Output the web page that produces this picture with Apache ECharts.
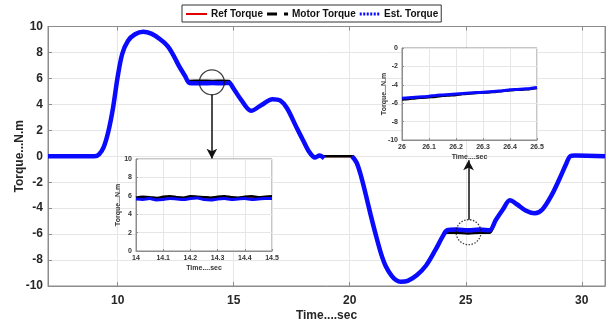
<!DOCTYPE html>
<html><head><meta charset="utf-8">
<script src="https://cdn.jsdelivr.net/npm/echarts@6/dist/echarts.min.js"></script>
<style>html,body{margin:0;padding:0;background:#fff}#c{width:610px;height:323px}</style>
</head><body><div id="c"></div>
<script>
// ---- main plot data (time in s, torque in N.m) ----
const mainTime = [7, 9.0, 9.2, 9.4, 9.6, 9.8, 10.0, 10.2, 10.45, 10.75, 11.1, 11.45, 11.8, 12.15, 12.4, 12.66, 12.9, 13.1, 13.6, 14.1, 14.5, 14.8, 15.0, 15.3, 15.75, 16.2, 16.67, 17.0, 17.3, 17.7, 18.0, 18.25, 18.5, 18.7, 18.9, 19.5, 20.1, 20.3, 20.5, 20.7, 20.9, 21.13, 21.35, 21.56, 21.8, 22.0, 22.2, 22.5, 22.9, 23.3, 23.7, 24.0, 24.2, 24.6, 25.1, 25.6, 26.03, 26.3, 26.6, 26.9, 27.2, 27.6, 27.97, 28.3, 28.7, 29.05, 29.3, 29.5, 29.7, 31];
const refTorque = [0, 0, 0.15, 0.7, 1.9, 3.7, 6.1, 7.9, 8.9, 9.4, 9.6, 9.45, 9.05, 8.5, 7.8, 6.9, 6.2, 5.75, 5.75, 5.75, 5.75, 5.75, 5.2, 4.4, 3.5, 3.95, 4.4, 4.3, 3.7, 2.25, 1.2, 0.35, 0, 0, 0, 0, 0, -0.5, -1.6, -3.0, -4.5, -6.1, -7.5, -8.5, -9.2, -9.55, -9.67, -9.6, -9.15, -8.4, -7.2, -6.2, -5.8, -5.8, -5.8, -5.8, -5.8, -4.9, -4.1, -3.4, -3.7, -4.2, -4.4, -4.1, -3.0, -1.7, -0.7, 0, 0.05, 0];
const motorTorque = [0, 0, 0.15, 0.7, 1.9, 3.7, 6.1, 7.9, 8.9, 9.4, 9.6, 9.45, 9.05, 8.5, 7.8, 6.9, 6.2, 5.8, 5.82, 5.8, 5.82, 5.8, 5.2, 4.4, 3.5, 3.95, 4.4, 4.3, 3.7, 2.25, 1.2, 0.35, 0, 0, 0, 0, 0, -0.5, -1.6, -3.0, -4.5, -6.1, -7.5, -8.5, -9.2, -9.55, -9.67, -9.6, -9.15, -8.4, -7.2, -6.2, -5.9, -5.9, -5.95, -5.9, -5.9, -4.9, -4.1, -3.4, -3.7, -4.2, -4.4, -4.1, -3.0, -1.7, -0.7, 0, 0.05, 0];
const estTorque = [0, 0, 0.15, 0.7, 1.9, 3.7, 6.1, 7.9, 8.9, 9.4, 9.6, 9.45, 9.05, 8.5, 7.8, 6.9, 6.2, 5.65, 5.62, 5.65, 5.62, 5.65, 5.2, 4.4, 3.5, 3.95, 4.4, 4.3, 3.7, 2.25, 1.2, 0.35, -0.1, 0.05, -0.15, null, 0, -0.5, -1.6, -3.0, -4.5, -6.1, -7.5, -8.5, -9.2, -9.55, -9.67, -9.6, -9.15, -8.4, -7.2, -6.2, -5.7, -5.65, -5.7, -5.65, -5.7, -4.9, -4.1, -3.4, -3.7, -4.2, -4.4, -4.1, -3.0, -1.7, -0.7, 0, 0.05, 0];

// ---- inset 1: 14 .. 14.5 s ----
const inset1Time = [14, 14.025, 14.05, 14.075, 14.1, 14.125, 14.15, 14.175, 14.2, 14.225, 14.25, 14.275, 14.3, 14.325, 14.35, 14.375, 14.4, 14.425, 14.45, 14.475, 14.5];
const inset1Ref = [5.75, 5.75, 5.75, 5.75, 5.75, 5.75, 5.75, 5.75, 5.75, 5.75, 5.75, 5.75, 5.75, 5.75, 5.75, 5.75, 5.75, 5.75, 5.75, 5.75, 5.75];
const inset1Motor = [5.8, 5.9, 5.85, 5.75, 5.9, 5.95, 5.85, 5.8, 5.95, 5.9, 5.85, 5.8, 5.9, 5.95, 5.85, 5.8, 5.9, 5.95, 5.85, 5.9, 5.95];
const inset1Est = [5.65, 5.6, 5.7, 5.55, 5.6, 5.7, 5.65, 5.6, 5.7, 5.75, 5.6, 5.55, 5.65, 5.7, 5.6, 5.65, 5.7, 5.6, 5.65, 5.7, 5.7];

// ---- inset 2: 26 .. 26.5 s ----
const inset2Time = [26, 26.025, 26.05, 26.075, 26.1, 26.125, 26.15, 26.175, 26.2, 26.225, 26.25, 26.275, 26.3, 26.325, 26.35, 26.375, 26.4, 26.425, 26.45, 26.475, 26.5];
const inset2Ref = [-5.5, -5.45, -5.4, -5.35, -5.3, -5.22, -5.15, -5.1, -5.05, -4.98, -4.92, -4.87, -4.82, -4.77, -4.72, -4.65, -4.58, -4.52, -4.47, -4.42, -4.32];
const inset2Motor = [-5.6, -5.55, -5.45, -5.4, -5.35, -5.3, -5.2, -5.15, -5.1, -5.0, -4.95, -4.9, -4.85, -4.8, -4.75, -4.65, -4.6, -4.55, -4.5, -4.45, -4.35];
const inset2Est = [-5.45, -5.4, -5.35, -5.3, -5.25, -5.15, -5.1, -5.05, -5.0, -4.95, -4.9, -4.85, -4.8, -4.75, -4.7, -4.65, -4.55, -4.5, -4.45, -4.4, -4.3];

// ---- zoom markers (data coords) ----
const zoomCircles = [[14.06, 5.7], [25.12, -5.85]];
const zoomArrows = [[[14.06, 4.75], [14.06, -0.2]], [[25.12, -4.9], [25.12, -0.3]]];

const FONT = 'Liberation Sans, Arial, sans-serif';
const BLUE = '#0a0aff';
const pair = (t, v) => t.map((x, i) => [x, v[i]]);

const chart = echarts.init(document.getElementById('c'), null, {renderer: 'canvas'});

const gridLine = {show: true, lineStyle: {color: '#e6e6e6', width: 1}};
const mainLabel = {color: '#262626', fontWeight: 'bold', fontSize: 12, fontFamily: FONT};
const insetLabel = {color: '#333', fontWeight: 'bold', fontSize: 7, fontFamily: FONT, margin: 4};
const axLine = {show: true, onZero: false, lineStyle: {color: '#8c8c8c', width: 1}};

function insetAxes(gi, xmin, xmax, xint, ymin, ymax) {
  return {
    x: {type: 'value', gridIndex: gi, min: xmin, max: xmax, interval: xint, z: 11,
        axisLine: axLine, axisTick: {inside: true, length: 2, lineStyle: {color: '#8c8c8c'}},
        splitLine: gridLine, axisLabel: insetLabel,
        name: 'Time....sec', nameLocation: 'middle', nameGap: 14, nameMoveOverlap: false,
        nameTextStyle: {color: '#333', fontWeight: 'bold', fontSize: 7, fontFamily: FONT}},
    y: {type: 'value', gridIndex: gi, min: ymin, max: ymax, interval: 2, z: 11,
        axisLine: axLine, axisTick: {inside: true, length: 2, lineStyle: {color: '#8c8c8c'}},
        splitLine: gridLine, axisLabel: insetLabel,
        name: 'Torque...N.m', nameLocation: 'middle', nameGap: 14, nameMoveOverlap: false,
        nameTextStyle: {color: '#333', fontWeight: 'bold', fontSize: 7, fontFamily: FONT}}
  };
}
const in1 = insetAxes(1, 14, 14.5, 0.1, 0, 10);
const in2 = insetAxes(2, 26, 26.5, 0.1, -10, 0);

function lineSeries(name, data, xi, yi, color, width, z, type) {
  return {name, type: 'line', xAxisIndex: xi, yAxisIndex: yi, data, showSymbol: false, symbol: 'none',
    smooth: 0.3, connectNulls: false, z, silent: true,
    lineStyle: {color, width, type: type || 'solid'}, itemStyle: {color}};
}

chart.setOption({
  animation: false,
  backgroundColor: '#fff',
  legend: {
    left: 182, top: 5, padding: [4, 3, 3, 4], itemGap: 4, itemWidth: 21, itemHeight: 3,
    borderColor: '#333', borderWidth: 1, backgroundColor: '#fff',
    textStyle: {color: '#111', fontWeight: 'bold', fontSize: 10, fontFamily: FONT, padding: [0, 0, 0, -1]},
    data: [
      {name: 'Ref Torque', icon: 'path://M0,0H21V2H0Z', itemStyle: {color: '#e00000'}},
      {name: 'Motor Torque', icon: 'path://M0,0H10V3H0ZM17,0H21V3H17Z', itemStyle: {color: '#000'}},
      {name: 'Est. Torque', icon: 'path://M0,0H2V3H0ZM3.5,0H5.5V3H3.5ZM7,0H9V3H7ZM10.5,0H12.5V3H10.5ZM14,0H16V3H14ZM17.5,0H19.5V3H17.5Z', itemStyle: {color: BLUE}}
    ]
  },
  grid: [
    {left: 48, top: 26.5, right: 5, bottom: 37, outerBoundsMode: 'none', containLabel: false, show: true, borderColor: '#8c8c8c', borderWidth: 1, backgroundColor: '#fff'},
    {left: 136, top: 159, width: 136, height: 92, outerBoundsMode: 'none', containLabel: false, show: true, borderColor: '#8c8c8c', borderWidth: 1, backgroundColor: '#fff', z: 10},
    {left: 402, top: 48, width: 135, height: 92, outerBoundsMode: 'none', containLabel: false, show: true, borderColor: '#8c8c8c', borderWidth: 1, backgroundColor: '#fff', z: 10}
  ],
  xAxis: [
    {type: 'value', gridIndex: 0, min: 7, max: 31, splitNumber: 5,
     axisLine: axLine, axisTick: {inside: true, length: 4, lineStyle: {color: '#8c8c8c'}},
     splitLine: gridLine,
     axisLabel: Object.assign({}, mainLabel, {margin: 9, formatter: v => (v % 5 === 0 ? String(v) : '')}),
     name: 'Time....sec', nameLocation: 'middle', nameGap: 24, nameMoveOverlap: false,
     nameTextStyle: {color: '#262626', fontWeight: 'bold', fontSize: 12, fontFamily: FONT}},
    {type: 'value', gridIndex: 0, position: 'top', min: 7, max: 31, splitNumber: 5,
     axisLine: axLine, axisTick: {inside: true, length: 4, lineStyle: {color: '#8c8c8c'}},
     splitLine: {show: false}, axisLabel: {show: false}},
    in1.x, in2.x
  ],
  yAxis: [
    {type: 'value', gridIndex: 0, min: -10, max: 10, interval: 2,
     axisLine: axLine, axisTick: {inside: true, length: 4, lineStyle: {color: '#8c8c8c'}},
     splitLine: gridLine,
     axisLabel: Object.assign({}, mainLabel, {margin: 5}),
     name: 'Torque...N.m', nameLocation: 'middle', nameGap: 22, nameMoveOverlap: false,
     nameTextStyle: {color: '#262626', fontWeight: 'bold', fontSize: 12, fontFamily: FONT}},
    {type: 'value', gridIndex: 0, position: 'right', min: -10, max: 10, interval: 2,
     axisLine: axLine, axisTick: {inside: true, length: 4, lineStyle: {color: '#8c8c8c'}},
     splitLine: {show: false}, axisLabel: {show: false}},
    in1.y, in2.y
  ],
  series: [
    lineSeries('Ref Torque', pair(mainTime, refTorque), 0, 0, '#e00000', 2, 3),
    lineSeries('Motor Torque', pair(mainTime, motorTorque), 0, 0, '#000', 2.5, 4),
    lineSeries('Est. Torque', pair(mainTime, estTorque), 0, 0, BLUE, 4.5, 5),
    lineSeries('Ref Torque', pair(inset1Time, inset1Ref), 2, 2, '#e00000', 1.5, 12),
    lineSeries('Motor Torque', pair(inset1Time, inset1Motor), 2, 2, '#000', 2.5, 13),
    lineSeries('Est. Torque', pair(inset1Time, inset1Est), 2, 2, BLUE, 3, 14),
    lineSeries('Ref Torque', pair(inset2Time, inset2Ref), 3, 3, '#e00000', 1.5, 12),
    lineSeries('Motor Torque', pair(inset2Time, inset2Motor), 3, 3, '#000', 2.5, 13),
    lineSeries('Est. Torque', pair(inset2Time, inset2Est), 3, 3, BLUE, 3, 14),
    {name: 'zoom', type: 'scatter', xAxisIndex: 0, yAxisIndex: 0, z: 20, silent: true,
     symbol: 'circle', symbolSize: 25,
     data: [
       {value: zoomCircles[0], itemStyle: {color: 'rgba(0,0,0,0)', borderColor: '#111', borderWidth: 1.3}},
       {value: zoomCircles[1], itemStyle: {color: 'rgba(0,0,0,0)', borderColor: '#111', borderWidth: 1.3, borderType: [1.5, 1.5]}}
     ],
     markLine: {silent: true, symbol: ['none', 'arrow'], symbolSize: [8, 10], animation: false,
       label: {show: false}, lineStyle: {color: '#111', width: 1.5, type: 'solid'},
       data: zoomArrows.map(a => [{coord: a[0]}, {coord: a[1]}])}
    }
  ]
});
</script></body></html>
